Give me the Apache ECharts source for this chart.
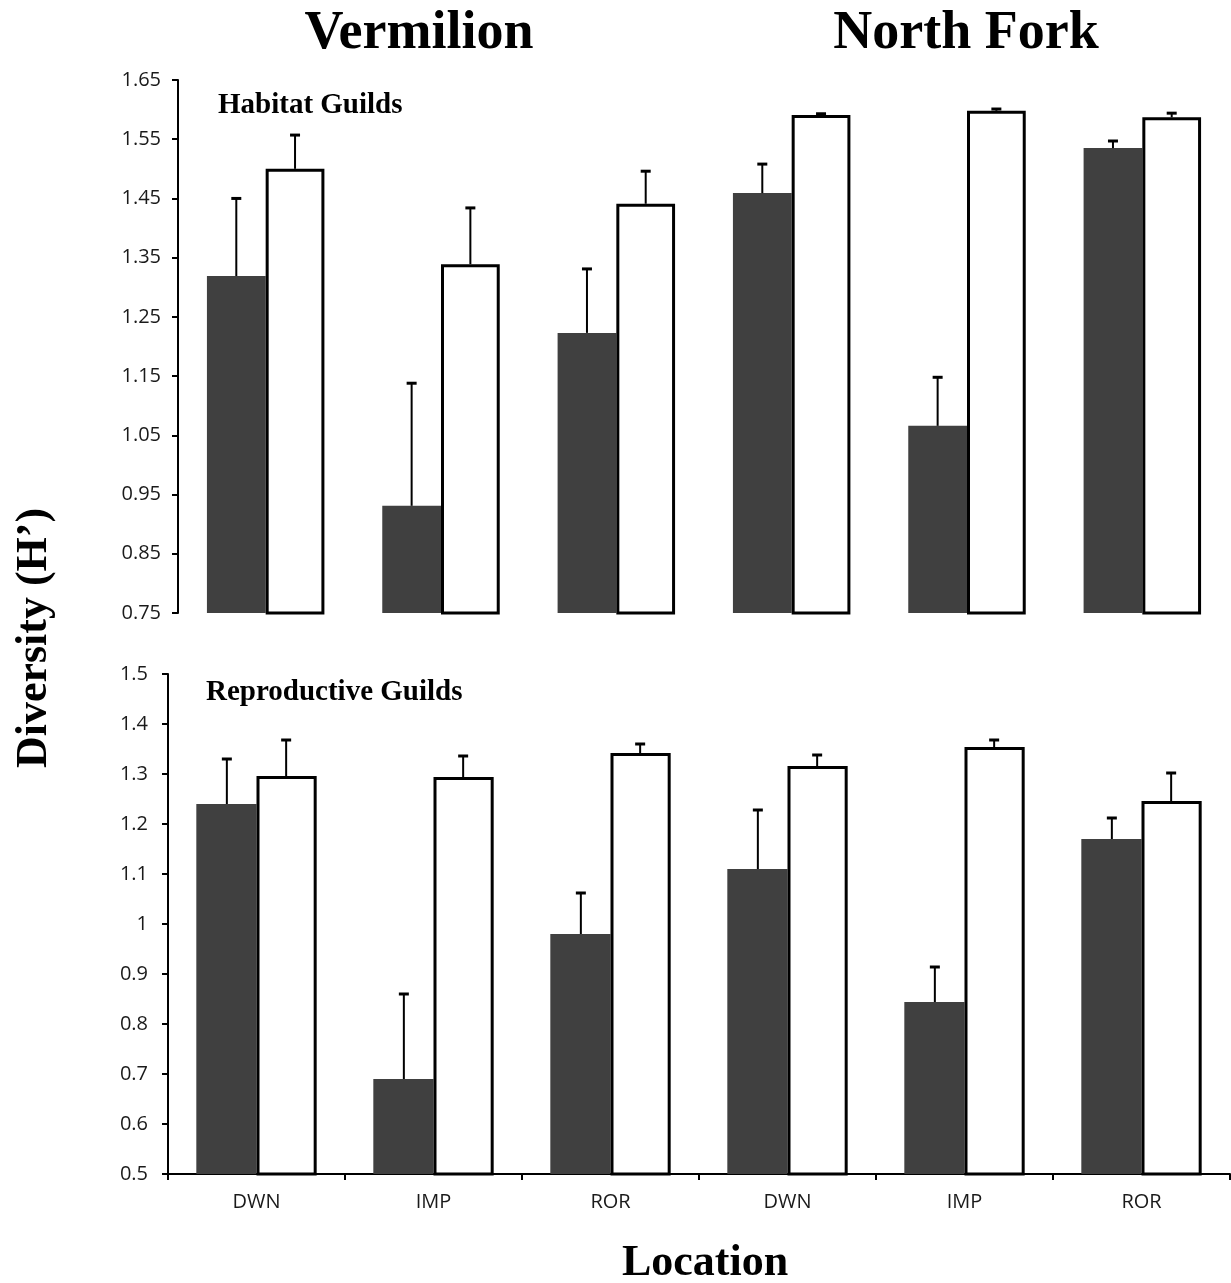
<!DOCTYPE html>
<html><head><meta charset="utf-8">
<script src="https://cdn.jsdelivr.net/npm/echarts@6/dist/echarts.min.js"></script>
<style>html,body{margin:0;padding:0;background:#fff}#c{width:1231px;height:1283px}</style>
</head><body><div id="c"></div>
<script>
var categories = ['DWN','IMP','ROR','DWN','IMP','ROR'];
var habDark     = [1.319, 0.931, 1.223, 1.459, 1.066, 1.535];
var habDarkErr  = [0.131, 0.207, 0.108, 0.049, 0.082, 0.012];
var habWhite    = [1.500, 1.339, 1.441, 1.591, 1.598, 1.587];
var habWhiteErr = [0.057, 0.095, 0.055, 0.002, 0.003, 0.007];
var repDark     = [1.240, 0.690, 0.980, 1.110, 0.844, 1.170];
var repDarkErr  = [0.090, 0.170, 0.082, 0.118, 0.070, 0.042];
var repWhite    = [1.296, 1.294, 1.342, 1.316, 1.354, 1.246];
var repWhiteErr = [0.072, 0.042, 0.018, 0.022, 0.014, 0.056];

var GAP = 0.33;
var LBL = '"Open Sans", "Liberation Sans", sans-serif';
var SERIF = '"Liberation Serif", "DejaVu Serif", serif';

function errData(vals, errs){ return vals.map(function(v,i){ return [i, v, v+errs[i]]; }); }
function errRender(side){
  return function(params, api){
    var idx = api.value(0), v = api.value(1), u = api.value(2);
    var b = api.coord([idx, v]), t = api.coord([idx, u]);
    var band = api.size([1,0])[0];
    var bw = band*(1-GAP)/2;
    var x = b[0] + side*bw/2;
    return {type:'group', children:[
      {type:'line', shape:{x1:x,y1:b[1],x2:x,y2:t[1]}, style:{stroke:'#000',lineWidth:2}},
      {type:'line', shape:{x1:x-5,y1:t[1],x2:x+5,y2:t[1]}, style:{stroke:'#000',lineWidth:3}}
    ]};
  };
}
function yAxis(gi, min, max, dec, margin){
  return {type:'value', gridIndex:gi, min:min, max:max, interval:0.1,
    axisLine:{show:true, lineStyle:{color:'#000', width:2}},
    axisTick:{show:true, inside:false, length:6, lineStyle:{color:'#000', width:2}},
    splitLine:{show:false},
    axisLabel:{margin:margin, color:'#1a1a1a', fontFamily:LBL, fontSize:20,
      formatter:function(v){ var s = (+v).toFixed(dec); if(dec===1){ s = String(+(+v).toFixed(1)); } return s; }}
  };
}
var chart = echarts.init(document.getElementById('c'), null, {renderer:'canvas'});
chart.setOption({
  animation:false,
  backgroundColor:'#fff',
  title:[
    {text:'Vermilion', left:414, top:2, textAlign:'center', textStyle:{fontFamily:SERIF, fontWeight:'bold', fontSize:54, color:'#000'}},
    {text:'North Fork', left:961, top:2, textAlign:'center', textStyle:{fontFamily:SERIF, fontWeight:'bold', fontSize:54, color:'#000'}},
    {text:'Habitat Guilds', left:213, top:86, textStyle:{fontFamily:SERIF, fontWeight:'bold', fontSize:29, color:'#000'}},
    {text:'Reproductive Guilds', left:201, top:673, textStyle:{fontFamily:SERIF, fontWeight:'bold', fontSize:29, color:'#000'}},
    {text:'Location', left:700, top:1237, textAlign:'center', textStyle:{fontFamily:SERIF, fontWeight:'bold', fontSize:44, color:'#000'}}
  ],
  graphic:[
    {type:'text', x:35, y:638, rotation:Math.PI/2, style:{text:'Diversity (H\u2019)', font:'bold 44px "Liberation Serif", serif', fill:'#000', align:'center', verticalAlign:'middle'}}
  ],
  grid:[
    {left:178, top:80, width:1052, height:533},
    {left:168, top:674, width:1062, height:500}
  ],
  xAxis:[
    {type:'category', gridIndex:0, data:categories, axisLine:{show:false}, axisTick:{show:false}, axisLabel:{show:false}},
    {type:'category', gridIndex:1, data:categories,
      axisLine:{show:true, lineStyle:{color:'#000', width:2}},
      axisTick:{show:true, length:6, lineStyle:{color:'#000', width:2}},
      axisLabel:{margin:18, color:'#1a1a1a', fontFamily:LBL, fontSize:20}}
  ],
  yAxis:[ yAxis(0, 0.75, 1.65, 2, 17), yAxis(1, 0.5, 1.5, 1, 20) ],
  series:[
    {type:'bar', xAxisIndex:0, yAxisIndex:0, data:habDark, barGap:'0%', barCategoryGap:'33%', itemStyle:{color:'#404040'}},
    {type:'bar', xAxisIndex:0, yAxisIndex:0, data:habWhite, barGap:'0%', barCategoryGap:'33%', itemStyle:{color:'#fff', borderColor:'#000', borderWidth:3}},
    {type:'bar', xAxisIndex:1, yAxisIndex:1, data:repDark, barGap:'0%', barCategoryGap:'32%', itemStyle:{color:'#404040'}},
    {type:'bar', xAxisIndex:1, yAxisIndex:1, data:repWhite, barGap:'0%', barCategoryGap:'32%', itemStyle:{color:'#fff', borderColor:'#000', borderWidth:3}},
    {type:'custom', xAxisIndex:0, yAxisIndex:0, data:errData(habDark, habDarkErr), renderItem:errRender(-1), z:5},
    {type:'custom', xAxisIndex:0, yAxisIndex:0, data:errData(habWhite, habWhiteErr), renderItem:errRender(1), z:5},
    {type:'custom', xAxisIndex:1, yAxisIndex:1, data:errData(repDark, repDarkErr), renderItem:errRender(-1), z:5},
    {type:'custom', xAxisIndex:1, yAxisIndex:1, data:errData(repWhite, repWhiteErr), renderItem:errRender(1), z:5}
  ]
});
</script></body></html>
